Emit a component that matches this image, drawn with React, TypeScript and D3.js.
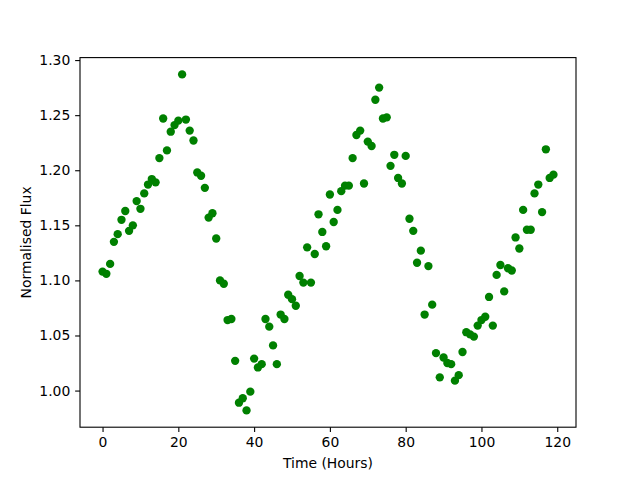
import React, {useEffect, useRef} from 'react'
import * as d3 from 'd3'

// time since start of observation, one sample per hour
const hours = [
  0, 1, 2, 3, 4, 5, 6, 7, 8, 9, 10, 11, 12, 13, 14, 15, 16, 17, 18, 19,
  20, 21, 22, 23, 24, 25, 26, 27, 28, 29, 30, 31, 32, 33, 34, 35, 36, 37, 38, 39,
  40, 41, 42, 43, 44, 45, 46, 47, 48, 49, 50, 51, 52, 53, 54, 55, 56, 57, 58, 59,
  60, 61, 62, 63, 64, 65, 66, 67, 68, 69, 70, 71, 72, 73, 74, 75, 76, 77, 78, 79,
  80, 81, 82, 83, 84, 85, 86, 87, 88, 89, 90, 91, 92, 93, 94, 95, 96, 97, 98, 99,
  100, 101, 102, 103, 104, 105, 106, 107, 108, 109, 110, 111, 112, 113, 114, 115, 116, 117, 118, 119,
]

const flux = [
  1.108, 1.106, 1.115, 1.135, 1.142, 1.155, 1.163, 1.145, 1.15, 1.172,
  1.165, 1.179, 1.187, 1.192, 1.189, 1.211, 1.247, 1.218, 1.235, 1.241,
  1.245, 1.287, 1.246, 1.236, 1.227, 1.198, 1.195, 1.184, 1.157, 1.161,
  1.138, 1.1, 1.097, 1.064, 1.065, 1.027, 0.989, 0.993, 0.982, 0.999,
  1.029, 1.021, 1.024, 1.065, 1.058, 1.041, 1.024, 1.069, 1.065, 1.087,
  1.083, 1.077, 1.104, 1.098, 1.13, 1.098, 1.124, 1.16, 1.144, 1.131,
  1.178, 1.153, 1.164, 1.181, 1.186, 1.186, 1.211, 1.232, 1.236, 1.188,
  1.226, 1.222, 1.264, 1.275, 1.247, 1.248, 1.204, 1.214, 1.193, 1.188,
  1.213, 1.156, 1.145, 1.116, 1.127, 1.069, 1.113, 1.078, 1.034, 1.012,
  1.03, 1.025, 1.024, 1.009, 1.014, 1.035, 1.053, 1.051, 1.049, 1.059,
  1.064, 1.067, 1.085, 1.059, 1.105, 1.114, 1.09, 1.111, 1.109, 1.139,
  1.129, 1.164, 1.146, 1.146, 1.179, 1.187, 1.162, 1.219, 1.193, 1.196,
]

const xTicks = [0, 20, 40, 60, 80, 100, 120]
const yTicks = [1.0, 1.05, 1.1, 1.15, 1.2, 1.25, 1.3]

const width = 640
const height = 480
const margin = {top: 57.6, right: 64, bottom: 52.8, left: 80}

export default function App() {
  const ref = useRef<SVGSVGElement>(null)

  useEffect(() => {
    document.body.style.margin = '0'
    const svg = d3.select(ref.current)
    svg.selectAll('*').remove()

    const innerW = width - margin.left - margin.right
    const innerH = height - margin.top - margin.bottom

    // matplotlib style 5% padding round the data
    const [x0, x1] = d3.extent(hours) as [number, number]
    const [y0, y1] = d3.extent(flux) as [number, number]
    const xPad = (x1 - x0) * 0.05
    const yPad = (y1 - y0) * 0.05

    const x = d3
      .scaleLinear()
      .domain([x0 - xPad, x1 + xPad])
      .range([0, innerW])
    const y = d3
      .scaleLinear()
      .domain([y0 - yPad, y1 + yPad])
      .range([innerH, 0])

    const g = svg
      .append('g')
      .attr('transform', `translate(${margin.left},${margin.top})`)

    g.append('rect')
      .attr('width', innerW)
      .attr('height', innerH)
      .attr('fill', 'white')

    g.selectAll('circle')
      .data(hours)
      .join('circle')
      .attr('cx', (d) => x(d))
      .attr('cy', (d, i) => y(flux[i]))
      .attr('r', 4.17)
      .attr('fill', '#008000')

    const xAxis = g
      .append('g')
      .attr('transform', `translate(0,${innerH})`)
      .call(
        d3
          .axisBottom(x)
          .tickValues(xTicks)
          .tickFormat(d3.format('d'))
          .tickSize(4.86)
          .tickPadding(4.86)
      )
    const yAxis = g.append('g').call(
      d3
        .axisLeft(y)
        .tickValues(yTicks)
        .tickFormat(d3.format('.2f'))
        .tickSize(4.86)
        .tickPadding(4.86)
    )
    for (const ax of [xAxis, yAxis]) {
      ax.select('.domain').remove()
      ax.selectAll('line').attr('stroke', 'black').attr('stroke-width', 1.1)
      ax.selectAll('text')
        .attr('fill', 'black')
        .attr('font-family', 'DejaVu Sans')
        .attr('font-size', 13.9)
    }

    // spines
    g.append('rect')
      .attr('width', innerW)
      .attr('height', innerH)
      .attr('fill', 'none')
      .attr('stroke', 'black')
      .attr('stroke-width', 1.1)

    g.append('text')
      .attr('x', innerW / 2)
      .attr('y', innerH + 41)
      .attr('text-anchor', 'middle')
      .attr('font-family', 'DejaVu Sans')
      .attr('font-size', 13.9)
      .text('Time (Hours)')

    g.append('text')
      .attr('transform', `translate(${-49},${innerH / 2}) rotate(-90)`)
      .attr('text-anchor', 'middle')
      .attr('font-family', 'DejaVu Sans')
      .attr('font-size', 13.9)
      .text('Normalised Flux')
  }, [])

  return (
    <svg
      ref={ref}
      width={width}
      height={height}
      style={{display: 'block', background: 'white'}}
    />
  )
}
